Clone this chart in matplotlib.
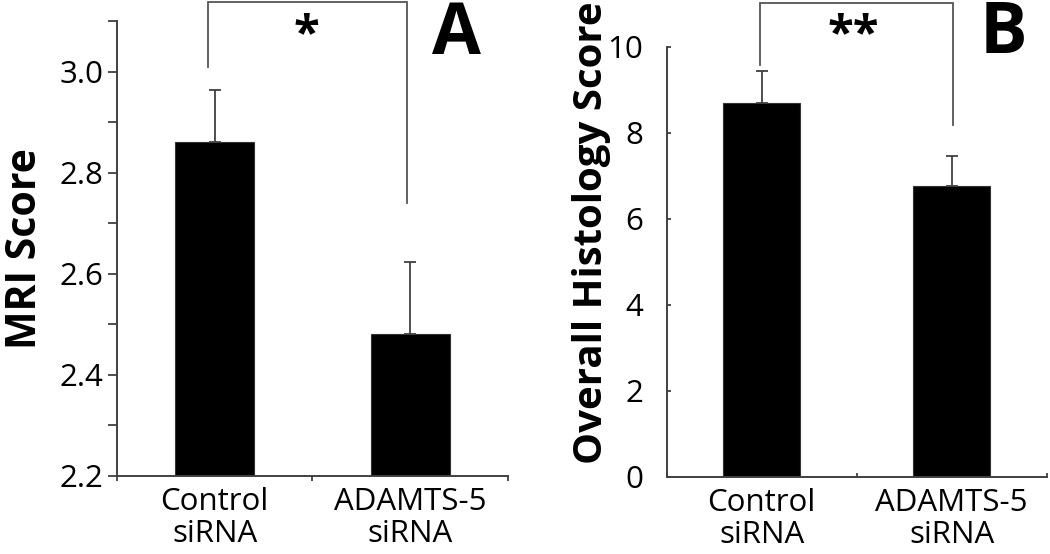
import numpy as np
import matplotlib
matplotlib.use("Agg")
import matplotlib.pyplot as plt

plt.rcParams["font.family"] = ["Open Sans", "DejaVu Sans"]

# data
groups = ["Control\nsiRNA", "ADAMTS-5\nsiRNA"]
mri_mean = [2.86, 2.48]
mri_err = [0.104, 0.144]
hist_mean = [8.70, 6.77]
hist_err = [0.74, 0.69]

AXIS = "#404040"
LINE = "#555555"


def style_axis(ax, tickdir, ylen, xlen):
    for side in ("top", "right"):
        ax.spines[side].set_visible(False)
    for side in ("left", "bottom"):
        ax.spines[side].set_color(AXIS)
        ax.spines[side].set_linewidth(1.4)
    ax.set_xlim(-0.5, 1.5)
    # ticks at the category boundaries, labels centred under the bars
    ax.set_xticks([-0.5, 0.5, 1.5])
    ax.set_xticklabels([])
    ax.set_xticks([0, 1], minor=True)
    ax.set_xticklabels(groups, minor=True, fontsize=22.5, linespacing=1.1)
    ax.tick_params(axis="x", which="major", direction=tickdir, length=xlen, width=1.3, color=AXIS)
    ax.tick_params(axis="x", which="minor", length=0, pad=8)
    ax.tick_params(axis="y", which="both", direction=tickdir, length=ylen, width=1.3,
                   color=AXIS, labelsize=22.5)


def bracket(ax, x0, x1, y_left, y_top, y_right):
    ax.plot([x0, x0, x1, x1], [y_left, y_top, y_top, y_right], color=LINE,
            lw=1.3, clip_on=False, solid_joinstyle="miter")


fig = plt.figure(figsize=(10.5, 5.54), dpi=100)
x = np.arange(len(groups))

# A: MRI score
ax1 = fig.add_axes([0.1111, 0.1408, 0.3730, 0.8211])
ax1.bar(x, mri_mean, width=0.4, color="black", edgecolor="#333333", linewidth=0.8)
ax1.errorbar(x, mri_mean, yerr=[[0, 0], mri_err], fmt="none", ecolor=AXIS,
             elinewidth=1.3, capsize=4.2, capthick=1.3)
ax1.set_ylim(2.2, 3.1)
ax1.set_yticks([2.2, 2.4, 2.6, 2.8, 3.0])
ax1.set_yticklabels(["2.2", "2.4", "2.6", "2.8", "3.0"])
ax1.set_yticks([2.3, 2.5, 2.7, 2.9, 3.1], minor=True)
style_axis(ax1, "out", 6.5, 3.5)
ax1.tick_params(axis="y", which="both", pad=3)
ax1.set_ylabel("MRI Score", fontsize=29.5, fontweight="bold", labelpad=10)
bracket(ax1, -0.035, 0.985, 3.010, 3.137, 2.740)
fig.text(306.7 / 1050, 1 - 36 / 554, "*", ha="center", va="center", fontsize=34,
         fontweight="bold")
fig.text(456 / 1050, 1 - 54 / 554, "A", ha="center", va="baseline", fontsize=51,
         fontweight="bold")

# B: overall histology score
ax2 = fig.add_axes([0.6350, 0.1395, 0.3619, 0.7762])
ax2.bar(x, hist_mean, width=0.405, color="black", edgecolor="#333333", linewidth=0.8)
ax2.errorbar(x, hist_mean, yerr=[[0, 0], hist_err], fmt="none", ecolor=AXIS,
             elinewidth=1.3, capsize=4.2, capthick=1.3)
ax2.set_ylim(0, 10)
ax2.set_yticks([0, 2, 4, 6, 8, 10])
style_axis(ax2, "in", 3, 3)
ax2.tick_params(axis="y", which="both", pad=17)
ax2.set_ylabel("Overall Histology Score", fontsize=29, fontweight="bold")
ax2.yaxis.set_label_coords(-0.148, 0.567)
bracket(ax2, -0.01, 1.005, 9.57, 11.02, 8.18)
fig.text(853 / 1050, 1 - 36 / 554, "**", ha="center", va="center", fontsize=34,
         fontweight="bold")
fig.text(1003 / 1050, 1 - 53 / 554, "B", ha="center", va="baseline", fontsize=51,
         fontweight="bold")

fig.savefig("out.png", dpi=100, facecolor="white")
